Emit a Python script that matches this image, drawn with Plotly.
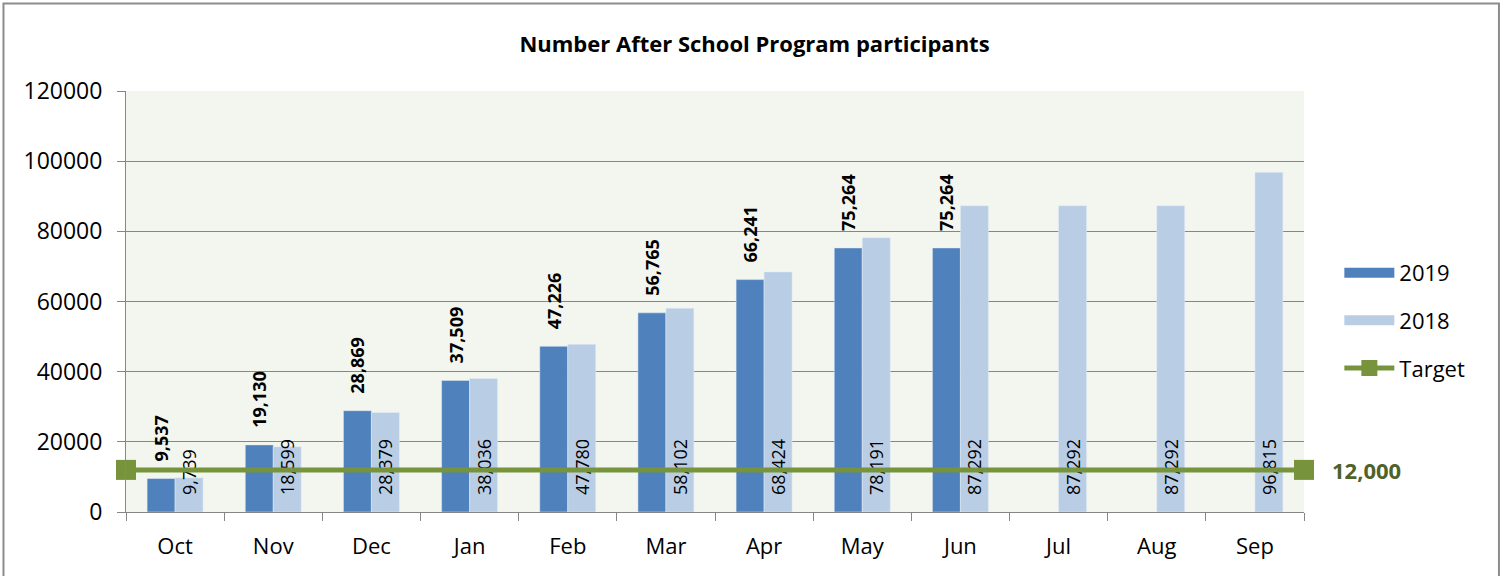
import plotly.graph_objects as go

MONTHS = ["Oct", "Nov", "Dec", "Jan", "Feb", "Mar", "Apr", "May", "Jun", "Jul", "Aug", "Sep"]
VALUES_2019 = [9537, 19130, 28869, 37509, 47226, 56765, 66241, 75264, 75264, None, None, None]
VALUES_2018 = [9739, 18599, 28379, 38036, 47780, 58102, 68424, 78191, 87292, 87292, 87292, 96815]
TARGET = 12000
Y_TICKS = [0, 20000, 40000, 60000, 80000, 100000, 120000]

FONT = "Open Sans"
C2019 = "#4F81BD"
C2018 = "#B9CDE5"
CTARGET = "#77933C"
PAD = "\u00a0\u00a0\u00a0"  # keeps labels off the bar ends, like Excel does


def fmt(v):
    return "" if v is None else f"{v:,}"


fig = go.Figure()

fig.add_trace(
    go.Bar(
        x=MONTHS,
        y=VALUES_2019,
        name="2019",
        marker=dict(color=C2019),
        text=["" if v is None else f"{PAD}<b>{fmt(v)}</b>" for v in VALUES_2019],
        textposition="outside",
        textangle=-90,
        textfont=dict(size=18, color="#000000", family=FONT),
        constraintext="none",
        cliponaxis=False,
        showlegend=False,
    )
)

fig.add_trace(
    go.Bar(
        x=MONTHS,
        y=VALUES_2018,
        name="2018",
        marker=dict(color=C2018),
        text=[PAD + fmt(v) for v in VALUES_2018],
        textposition="inside",
        insidetextanchor="start",
        textangle=-90,
        textfont=dict(size=18, color="#000000", family=FONT),
        constraintext="none",
        cliponaxis=False,
        showlegend=False,
    )
)

fig.add_trace(
    go.Scatter(
        x=[0, 1],
        y=[TARGET, TARGET],
        xaxis="x2",
        name="Target",
        mode="lines+markers",
        line=dict(color=CTARGET, width=5),
        marker=dict(symbol="square", size=20, color=CTARGET),
        cliponaxis=False,
        showlegend=False,
    )
)

# legend entries (wide swatches like the original)
for name, color, grp in [("2019", C2019, "a"), ("2018", C2018, "b")]:
    fig.add_trace(
        go.Scatter(
            x=[None],
            y=[None],
            name=name,
            mode="lines",
            line=dict(color=color, width=14),
            legendgroup=grp,
        )
    )
fig.add_trace(
    go.Scatter(
        x=[None],
        y=[None],
        name="Target",
        mode="lines+markers",
        line=dict(color=CTARGET, width=5),
        marker=dict(symbol="square", size=16, color=CTARGET),
        legendgroup="c",
    )
)

fig.add_annotation(
    x=1.022,
    xref="paper",
    y=TARGET,
    yref="y",
    text=f"<b>{TARGET:,}</b>",
    showarrow=False,
    xanchor="left",
    font=dict(size=22, color="#4F6228", family=FONT),
)

# outer chart frame
fig.add_shape(
    type="rect",
    xref="paper",
    yref="paper",
    x0=-0.104,
    x1=1.1655,
    y0=-0.16,
    y1=1.208,
    line=dict(color="#8C8C8C", width=2),
    fillcolor="rgba(0,0,0,0)",
    layer="below",
)

fig.update_layout(
    width=1509,
    height=576,
    margin=dict(l=126, r=205, t=91, b=64),
    paper_bgcolor="#FFFFFF",
    plot_bgcolor="#F3F6EE",
    font=dict(family=FONT, size=22, color="#000000"),
    title=dict(
        text="<b>Number After School Program participants</b>",
        x=0.5,
        xanchor="center",
        y=0.923,
        yanchor="middle",
        font=dict(size=22, family=FONT),
    ),
    barmode="group",
    bargap=0.43,
    bargroupgap=0,
    legend=dict(
        x=1.03,
        y=0.455,
        xanchor="left",
        yanchor="middle",
        font=dict(size=22),
        tracegroupgap=16,
        itemwidth=50,
        bgcolor="rgba(0,0,0,0)",
    ),
    xaxis=dict(
        type="category",
        showline=True,
        linecolor="#868686",
        linewidth=1,
        ticks="outside",
        tickson="boundaries",
        ticklen=8,
        tickcolor="#868686",
        showgrid=False,
        tickfont=dict(size=22),
        ticklabelstandoff=15,
    ),
    xaxis2=dict(
        overlaying="x",
        range=[0, 1],
        visible=False,
    ),
    yaxis=dict(
        range=[0, 120000],
        tickvals=Y_TICKS,
        ticktext=[str(v) for v in Y_TICKS],
        showgrid=True,
        gridcolor="#868686",
        gridwidth=1,
        showline=True,
        linecolor="#868686",
        ticks="outside",
        ticklen=8,
        tickcolor="#868686",
        tickfont=dict(size=23),
        ticklabelstandoff=10,
        zeroline=False,
    ),
)

fig.write_html(
    "out.html",
    config={"displayModeBar": False},
    post_script="document.body.style.margin = '0';",
)
